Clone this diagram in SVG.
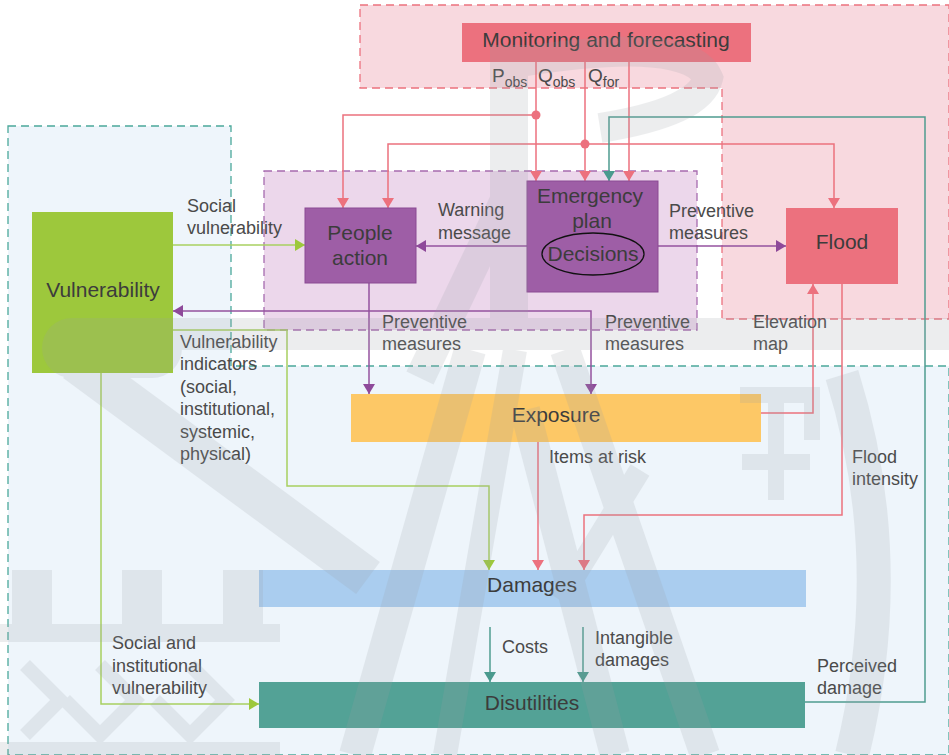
<svg xmlns="http://www.w3.org/2000/svg" width="949" height="755" viewBox="0 0 949 755">
  <style>
    .lbl { font-family: "Liberation Sans", Arial, Helvetica, sans-serif; font-size: 18px; fill: #4a4a4a; }
    .node-lbl { font-family: "Liberation Sans", Arial, Helvetica, sans-serif; font-size: 21px; fill: #3c3c3c; text-anchor: middle; }
    .sym { font-family: "Liberation Sans", Arial, Helvetica, sans-serif; font-size: 19px; fill: #4a4a4a; }
    .sub { font-size: 14px; }
    .c-red { fill: none; stroke: #ec717e; stroke-width: 1.5; }
    .c-pur { fill: none; stroke: #94529f; stroke-width: 1.5; }
    .c-grn { fill: none; stroke: #a8d060; stroke-width: 1.5; }
    .c-teal { fill: none; stroke: #4f9c90; stroke-width: 1.5; }
    .zone { stroke-width: 1.3; stroke-dasharray: 8 5; }
  </style>
  <defs>
    <marker id="ah-red" viewBox="0 0 10 12" refX="10" refY="6" markerWidth="10" markerHeight="12" orient="auto-start-reverse" markerUnits="userSpaceOnUse">
      <path d="M0,0 L10,6 L0,12 z" fill="#ec717e"/>
    </marker>
    <marker id="ah-pur" viewBox="0 0 10 12" refX="10" refY="6" markerWidth="10" markerHeight="12" orient="auto-start-reverse" markerUnits="userSpaceOnUse">
      <path d="M0,0 L10,6 L0,12 z" fill="#8e4a9a"/>
    </marker>
    <marker id="ah-grn" viewBox="0 0 10 12" refX="10" refY="6" markerWidth="10" markerHeight="12" orient="auto-start-reverse" markerUnits="userSpaceOnUse">
      <path d="M0,0 L10,6 L0,12 z" fill="#9dc83c"/>
    </marker>
    <marker id="ah-teal" viewBox="0 0 10 12" refX="10" refY="6" markerWidth="10" markerHeight="12" orient="auto-start-reverse" markerUnits="userSpaceOnUse">
      <path d="M0,0 L10,6 L0,12 z" fill="#4a9a8e"/>
    </marker>
  </defs>

  <rect width="949" height="755" fill="#ffffff"/>

  <!-- Background zones -->
  <g id="zones">
    <path id="zone-hazard" class="zone" d="M360,5 H949 V319 H722 V88 H360 Z" fill="#f8d9df" stroke="#ec717e"/>
    <path id="zone-impact" class="zone" d="M8,126 H231 V366 H949 V755 H8 Z" fill="#eef5fb" stroke="#4ba89a"/>
    <rect id="zone-response" class="zone" x="264" y="171" width="433" height="159" fill="#ebd5ea" fill-opacity="0.95" stroke="#a66baf"/>
  </g>

  <!-- Connectors -->
  <g id="connectors">
    <!-- monitoring outputs -->
    <path class="c-red" d="M536,62 V181" marker-end="url(#ah-red)"/>
    <path class="c-red" d="M585,62 V181" marker-end="url(#ah-red)"/>
    <path class="c-red" d="M629,62 V181" marker-end="url(#ah-red)"/>
    <path class="c-red" d="M536,115 H343 V208" marker-end="url(#ah-red)"/>
    <path class="c-red" d="M585,144 H388 V208" marker-end="url(#ah-red)"/>
    <path class="c-red" d="M585,144 H834 V208" marker-end="url(#ah-red)"/>
    <circle cx="536" cy="115" r="4.5" fill="#ec717e"/>
    <circle cx="585" cy="144" r="4.5" fill="#ec717e"/>
    <!-- perceived damage feedback -->
    <path class="c-teal" d="M805,702 H925 V117 H609 V181" marker-end="url(#ah-teal)"/>
    <!-- response -->
    <path class="c-grn" d="M173,245 H305" marker-end="url(#ah-grn)"/>
    <path class="c-pur" d="M527,246 H416" marker-end="url(#ah-pur)"/>
    <path class="c-pur" d="M658,246 H786" marker-end="url(#ah-pur)"/>
    <path class="c-pur" d="M369,283 V394" marker-end="url(#ah-pur)"/>
    <path class="c-pur" d="M173,311 H591 V394" marker-start="url(#ah-pur)" marker-end="url(#ah-pur)"/>
    <!-- hazard and exposure -->
    <path class="c-red" d="M761,413 H813 V284" marker-end="url(#ah-red)"/>
    <path class="c-red" d="M842,284 V515 H584 V570" marker-end="url(#ah-red)"/>
    <path class="c-red" d="M538,442 V570" marker-end="url(#ah-red)"/>
    <!-- vulnerability -->
    <path class="c-grn" d="M173,330 H287 V486 H489 V570" marker-end="url(#ah-grn)"/>
    <path class="c-grn" d="M101,373 V704 H259" marker-end="url(#ah-grn)"/>
    <!-- damages to disutilities -->
    <path class="c-teal" d="M490,627 V682" marker-end="url(#ah-teal)"/>
    <path class="c-teal" d="M583,627 V682" marker-end="url(#ah-teal)"/>
  </g>

  <!-- Nodes -->
  <g id="node-monitoring">
    <rect x="462" y="23" width="289" height="39" fill="#ec717e"/>
    <text class="node-lbl" x="606" y="47">Monitoring and forecasting</text>
  </g>
  <g id="node-people">
    <rect x="305" y="208" width="111" height="75" fill="#9e5ea6" stroke="#8a4a93" stroke-width="1"/>
    <text class="node-lbl" x="360" y="240">People</text>
    <text class="node-lbl" x="360" y="265">action</text>
  </g>
  <g id="node-emergency">
    <rect x="527" y="181" width="131" height="111" fill="#9e5ea6" stroke="#8a4a93" stroke-width="1"/>
    <text class="node-lbl" x="590" y="203">Emergency</text>
    <text class="node-lbl" x="592" y="228">plan</text>
    <ellipse cx="593" cy="254" rx="51" ry="21" fill="none" stroke="#111111" stroke-width="1.3"/>
    <text class="node-lbl" x="593" y="261">Decisions</text>
  </g>
  <g id="node-flood">
    <rect x="786" y="208" width="112" height="76" fill="#ec717e"/>
    <text class="node-lbl" x="842" y="249">Flood</text>
  </g>
  <g id="node-vulnerability">
    <rect x="32" y="212" width="141" height="161" fill="#9dc83c"/>
    <text class="node-lbl" x="103" y="297">Vulnerability</text>
  </g>
  <g id="node-exposure">
    <rect x="351" y="394" width="410" height="48" fill="#fdc866"/>
    <text class="node-lbl" x="556" y="422">Exposure</text>
  </g>
  <g id="node-damages">
    <rect x="259" y="570" width="547" height="37" fill="#aacdef"/>
    <text class="node-lbl" x="532" y="592">Damages</text>
  </g>
  <g id="node-disutilities">
    <rect x="259" y="682" width="546" height="46" fill="#53a296"/>
    <text class="node-lbl" x="532" y="710">Disutilities</text>
  </g>

  <!-- Connector labels -->
  <g id="labels">
    <text class="sym" x="492" y="82">P<tspan class="sub" dy="5">obs</tspan></text>
    <text class="sym" x="538" y="82">Q<tspan class="sub" dy="5">obs</tspan></text>
    <text class="sym" x="588" y="82">Q<tspan class="sub" dy="5">for</tspan></text>

    <text class="lbl" x="187" y="212">Social</text>
    <text class="lbl" x="187" y="234">vulnerability</text>
    <text class="lbl" x="438" y="216">Warning</text>
    <text class="lbl" x="438" y="239">message</text>
    <text class="lbl" x="669" y="217">Preventive</text>
    <text class="lbl" x="669" y="239">measures</text>
    <text class="lbl" x="382" y="328">Preventive</text>
    <text class="lbl" x="382" y="350">measures</text>
    <text class="lbl" x="605" y="328">Preventive</text>
    <text class="lbl" x="605" y="350">measures</text>
    <text class="lbl" x="753" y="328">Elevation</text>
    <text class="lbl" x="753" y="350">map</text>
    <text class="lbl" x="180" y="348">Vulnerability</text>
    <text class="lbl" x="180" y="370">indicators</text>
    <text class="lbl" x="180" y="393">(social,</text>
    <text class="lbl" x="180" y="415">institutional,</text>
    <text class="lbl" x="180" y="438">systemic,</text>
    <text class="lbl" x="180" y="460">physical)</text>
    <text class="lbl" x="549" y="463">Items at risk</text>
    <text class="lbl" x="852" y="463">Flood</text>
    <text class="lbl" x="852" y="485">intensity</text>
    <text class="lbl" x="502" y="653">Costs</text>
    <text class="lbl" x="595" y="644">Intangible</text>
    <text class="lbl" x="595" y="666">damages</text>
    <text class="lbl" x="112" y="649">Social and</text>
    <text class="lbl" x="112" y="672">institutional</text>
    <text class="lbl" x="112" y="694">vulnerability</text>
    <text class="lbl" x="817" y="672">Perceived</text>
    <text class="lbl" x="817" y="694">damage</text>
  </g>

  <!-- Seal watermark laid over the page -->
  <g id="watermark" opacity="0.18" fill="#9aa0a6" stroke="#9aa0a6" stroke-linecap="butt">
    <rect x="150" y="318" width="799" height="32" stroke="none"/>
    <rect x="42" y="318" width="140" height="60" rx="30" stroke="none"/>
    <path d="M75,362 L368,578" stroke-width="40" fill="none"/>
    <rect x="490" y="45" width="38" height="300" stroke="none"/>
    <path d="M520,62 Q690,35 708,78 Q700,112 600,128" stroke-width="30" fill="none"/>
    <path d="M505,200 L420,378" stroke-width="30" fill="none"/>
    <path d="M470,350 L355,755" stroke-width="32" fill="none"/>
    <path d="M515,350 L445,755" stroke-width="24" fill="none"/>
    <path d="M525,410 L615,755" stroke-width="30" fill="none"/>
    <path d="M565,350 L705,755" stroke-width="30" fill="none"/>
    <path d="M640,470 L560,600" stroke-width="22" fill="none"/>
    <path d="M740,395 H812 V440 M776,395 V500 M742,462 H810" stroke-width="16" fill="none"/>
    <path d="M842,375 Q900,560 852,755" stroke-width="34" fill="none"/>
    <rect x="12" y="570" width="40" height="70" stroke="none"/>
    <rect x="122" y="570" width="40" height="70" stroke="none"/>
    <rect x="223" y="570" width="40" height="70" stroke="none"/>
    <rect x="0" y="624" width="280" height="18" stroke="none"/>
    <path d="M25,665 L60,700 L25,735 M100,665 L135,700 L100,735 L65,700 M190,665 L225,700 L190,735 L155,700" stroke-width="14" fill="none"/>
    <rect x="0" y="742" width="280" height="13" stroke="none"/>
  </g>
</svg>
